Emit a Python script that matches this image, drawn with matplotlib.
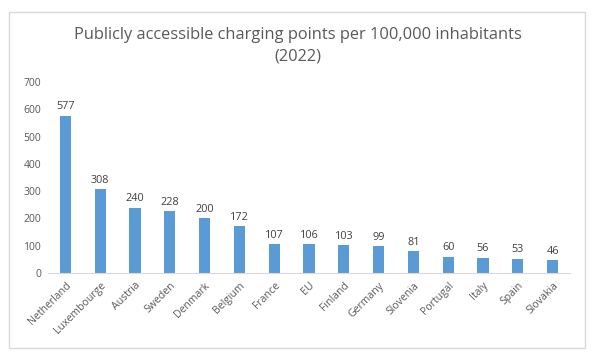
import matplotlib
matplotlib.use("Agg")
import matplotlib.pyplot as plt
from matplotlib.patches import Rectangle

countries = ["Netherland", "Luxembourge", "Austria", "Sweden", "Denmark", "Belgium",
             "France", "EU", "Finland", "Germany", "Slovenia", "Portugal", "Italy",
             "Spain", "Slovakia"]
values = [577, 308, 240, 228, 200, 172, 107, 106, 103, 99, 81, 60, 56, 53, 46]
yticks = [0, 100, 200, 300, 400, 500, 600, 700]

plt.rcParams['font.family'] = ['Open Sans', 'DejaVu Sans']
fig = plt.figure(figsize=(5.95, 3.59), dpi=100)
fig.patches.append(Rectangle((9/595, 1-348/359), 576/595, 336/359, transform=fig.transFigure,
                             fill=False, edgecolor='#d9d9d9', linewidth=1))
ax = fig.add_axes([48/595, 1-273/359, 522/595, 191/359])
x = range(len(countries))
bars = ax.bar(x, values, width=0.32, color='#5b9bd5')
for xi, v in zip(x, values):
    ax.text(xi, v + 12, str(v), ha='center', va='bottom', fontsize=7.8, color='#404040')
ax.set_ylim(0, 700)
ax.set_xlim(-0.5, len(countries) - 0.5)
ax.set_yticks(yticks)
ax.set_yticklabels([str(t) for t in yticks], fontsize=7.5, color='#595959')
ax.set_xticks(list(x))
ax.set_xticklabels(countries, rotation=45, ha='right', rotation_mode='anchor',
                   fontsize=7.6, color='#595959')
ax.tick_params(axis='both', length=0, pad=5)
for s in ['top', 'right', 'left']:
    ax.spines[s].set_visible(False)
ax.spines['bottom'].set_color('#d9d9d9')
fig.text(0.5, 1-46/359, "Publicly accessible charging points per 100,000 inhabitants\n(2022)",
         ha='center', va='center', fontsize=11.8, color='#595959', linespacing=1.45)
fig.savefig("out.png", dpi=100)
